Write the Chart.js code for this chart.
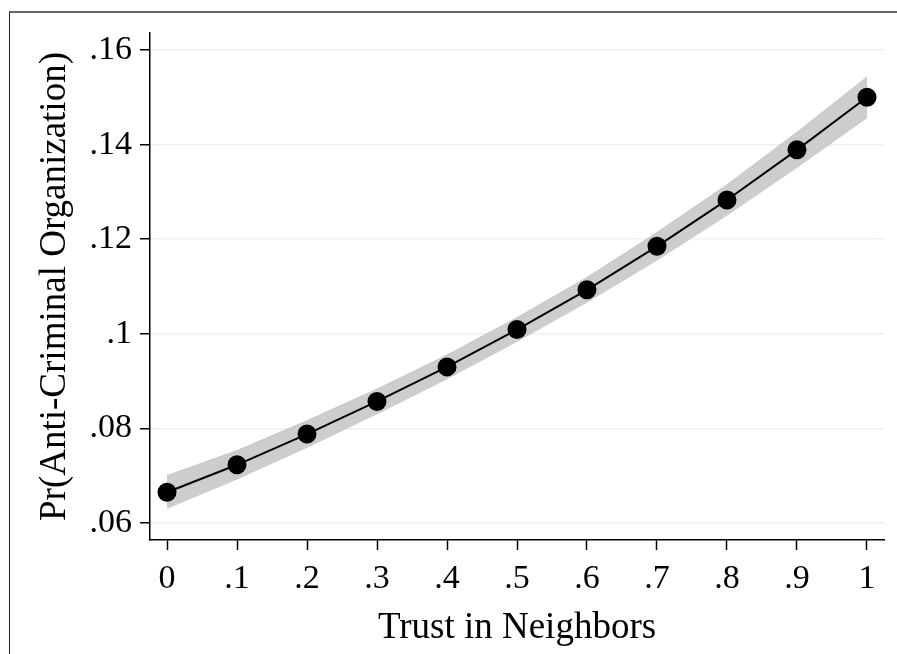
<!DOCTYPE html>
<html>
<head>
<meta charset="utf-8">
<script src="https://cdn.jsdelivr.net/npm/chart.js@4"></script>
<style>
    body { margin: 0; background: #fff; }
    #frame {
        position: absolute; left: 9px; top: 11px; width: 900px; height: 660px;
        border-top: 2px solid #666; border-left: 1px solid #222;
    }
    #trust-chart { position: absolute; left: 0; top: 0; }
</style>
</head>
<body>
<div id="frame"></div>
<canvas id="trust-chart" width="897" height="654"></canvas>
<script>
const trustLevels = [0, 0.1, 0.2, 0.3, 0.4, 0.5, 0.6, 0.7, 0.8, 0.9, 1];
const probValues = [0.0665, 0.0723, 0.0788, 0.0857, 0.0930, 0.1009, 0.1093, 0.1185, 0.1283, 0.1389, 0.1500];
const ciLower = [0.0631, 0.0693, 0.0760, 0.0831, 0.0905, 0.0984, 0.1067, 0.1156, 0.1251, 0.1352, 0.1457];
const ciUpper = [0.0700, 0.0753, 0.0816, 0.0883, 0.0955, 0.1034, 0.1119, 0.1214, 0.1315, 0.1426, 0.1543];
const xTicks = [0, 0.1, 0.2, 0.3, 0.4, 0.5, 0.6, 0.7, 0.8, 0.9, 1];
const xTickLabels = ["0", ".1", ".2", ".3", ".4", ".5", ".6", ".7", ".8", ".9", "1"];
const yTicks = [0.06, 0.08, 0.1, 0.12, 0.14, 0.16];
const yTickLabels = [".06", ".08", ".1", ".12", ".14", ".16"];

const serif = "'Liberation Serif', 'DejaVu Serif', serif";

function pairs(ys) {
    return trustLevels.map((x, i) => ({ x: x, y: ys[i] }));
}

function labelFor(values, labels, v) {
    const i = values.findIndex(t => Math.abs(t - v) < 1e-9);
    return i >= 0 ? labels[i] : "";
}

const trustCtx = document.getElementById("trust-chart");

let trustChart = new Chart(trustCtx, {
    type: "line",
    data: {
        datasets: [
            {
                label: "upper",
                data: pairs(ciUpper),
                borderColor: "#c4c4c4",
                borderWidth: 1,
                pointRadius: 0,
                backgroundColor: "#cdcdcd",
                fill: "+1",
                order: 2,
            },
            {
                label: "lower",
                data: pairs(ciLower),
                borderColor: "#c4c4c4",
                borderWidth: 1,
                pointRadius: 0,
                fill: false,
                order: 2,
            },
            {
                label: "Pr",
                data: pairs(probValues),
                borderColor: "#000",
                borderWidth: 2,
                pointRadius: 8.5,
                pointBackgroundColor: "#000",
                pointBorderColor: "#000",
                fill: false,
                order: 1,
            },
        ],
    },
    options: {
        responsive: false,
        animation: false,
        events: [],
        layout: { padding: { top: 33, right: 13, left: 0, bottom: 0 } },
        plugins: {
            legend: { display: false },
            tooltip: { enabled: false },
        },
        scales: {
            x: {
                type: "linear",
                min: -0.0243,
                max: 1.0243,
                afterBuildTicks: (scale) => {
                    scale.ticks = xTicks.map(v => ({ value: v }));
                },
                afterFit: (scale) => { scale.height = 114; },
                ticks: {
                    font: { family: serif, size: 34 },
                    color: "#000",
                    padding: 9,
                    maxRotation: 0,
                    autoSkip: false,
                    callback: (v) => labelFor(xTicks, xTickLabels, v),
                },
                grid: {
                    drawOnChartArea: false,
                    drawTicks: true,
                    tickLength: 10,
                    tickColor: "#000",
                    tickWidth: 1.5,
                },
                border: { display: true, color: "#000", width: 1.5 },
                title: {
                    display: true,
                    text: "Trust in Neighbors",
                    font: { family: serif, size: 37 },
                    color: "#000",
                    padding: { top: 0, bottom: 4 },
                },
            },
            y: {
                type: "linear",
                min: 0.0564,
                max: 0.1636,
                afterBuildTicks: (scale) => {
                    scale.ticks = yTicks.map(v => ({ value: v }));
                },
                afterFit: (scale) => { scale.width = 150; },
                ticks: {
                    font: { family: serif, size: 34 },
                    color: "#000",
                    padding: 8,
                    autoSkip: false,
                    callback: (v) => labelFor(yTicks, yTickLabels, v),
                },
                grid: {
                    color: "#eaf1f3",
                    lineWidth: 1.5,
                    drawTicks: true,
                    tickLength: 10,
                    tickColor: "#000",
                    tickWidth: 1.5,
                },
                border: { display: true, color: "#000", width: 1.5 },
                title: {
                    display: true,
                    text: "Pr(Anti-Criminal Organization)",
                    font: { family: serif, size: 37 },
                    color: "#000",
                    padding: { top: 33, bottom: 0 },
                },
            },
        },
    },
});
</script>
</body>
</html>
